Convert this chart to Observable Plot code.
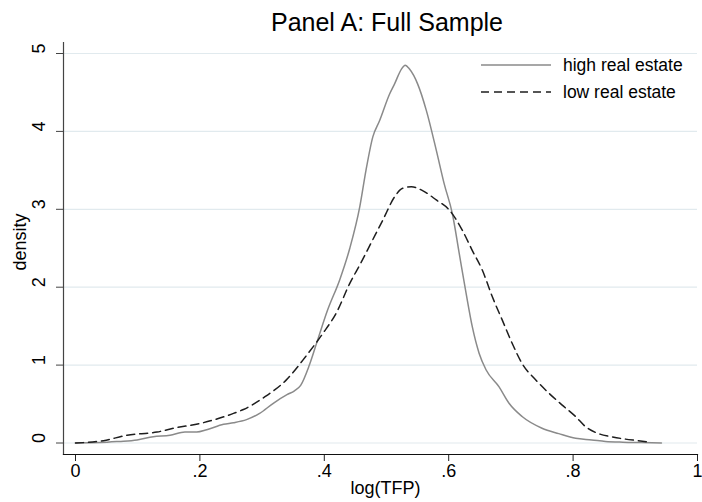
<!DOCTYPE html>
<html><head><meta charset="utf-8">
<script src="https://cdn.jsdelivr.net/npm/d3@7"></script>
<script src="https://cdn.jsdelivr.net/npm/@observablehq/plot@0.6"></script>
<style>
body{margin:0;background:#fff;font-family:"Liberation Sans",Arial,sans-serif;}
#wrap{position:relative;width:702px;height:502px;overflow:hidden;background:#fff;}
#title{position:absolute;left:75px;width:624px;top:4px;height:36px;line-height:36px;text-align:center;font-size:25px;color:#000;margin:0;font-weight:normal;}
#chart{position:absolute;left:0;top:36px;}
#legend{position:absolute;left:0;top:0;pointer-events:none;}
</style></head>
<body>
<div id="wrap">
  <div id="title"></div>
  <div id="chart"></div>
  <svg id="legend" width="702" height="502"></svg>
</div>
<script>
const titleText = "Panel A: Full Sample";
const seriesNames = ["high real estate", "low real estate"];
const xTicks = [0, 0.2, 0.4, 0.6, 0.8, 1];
const xTickLabels = ["0", ".2", ".4", ".6", ".8", "1"];
const yTicks = [0, 1, 2, 3, 4, 5];
const xLabel = "log(TFP)";
const yLabel = "density";

const highX = [0, 0.04, 0.07, 0.099, 0.125, 0.152, 0.176, 0.195, 0.211, 0.238, 0.254, 0.275, 0.296, 0.318, 0.340, 0.352, 0.362, 0.376, 0.390, 0.405, 0.425, 0.441, 0.457, 0.467, 0.478, 0.489, 0.505, 0.513, 0.524, 0.530, 0.537, 0.550, 0.564, 0.580, 0.593, 0.606, 0.617, 0.628, 0.638, 0.649, 0.660, 0.681, 0.697, 0.718, 0.750, 0.777, 0.804, 0.830, 0.852, 0.880, 0.910, 0.942];
const highY = [0, 0.005, 0.02, 0.04, 0.08, 0.10, 0.14, 0.14, 0.17, 0.24, 0.26, 0.30, 0.38, 0.51, 0.62, 0.67, 0.74, 1.00, 1.34, 1.70, 2.10, 2.50, 3.03, 3.50, 3.93, 4.14, 4.48, 4.61, 4.80, 4.85, 4.80, 4.61, 4.27, 3.76, 3.32, 2.94, 2.43, 1.92, 1.49, 1.15, 0.94, 0.72, 0.51, 0.34, 0.19, 0.12, 0.06, 0.04, 0.02, 0.01, 0.005, 0];

const lowX = [0, 0.045, 0.083, 0.131, 0.158, 0.200, 0.232, 0.254, 0.270, 0.302, 0.339, 0.371, 0.398, 0.420, 0.441, 0.458, 0.476, 0.494, 0.513, 0.526, 0.540, 0.558, 0.580, 0.601, 0.622, 0.638, 0.654, 0.670, 0.686, 0.702, 0.718, 0.740, 0.761, 0.782, 0.804, 0.820, 0.841, 0.862, 0.884, 0.905, 0.924];
const lowY = [0, 0.03, 0.10, 0.14, 0.19, 0.25, 0.32, 0.38, 0.43, 0.58, 0.81, 1.12, 1.41, 1.68, 2.05, 2.30, 2.58, 2.86, 3.16, 3.27, 3.29, 3.24, 3.12, 2.99, 2.73, 2.47, 2.22, 1.88, 1.58, 1.28, 1.02, 0.81, 0.64, 0.49, 0.34, 0.21, 0.12, 0.08, 0.05, 0.03, 0.01];

const high = highX.map((x, i) => ({x, y: highY[i]}));
const low = lowX.map((x, i) => ({x, y: lowY[i]}));

const solidColor = "#8a8a8a";
const dashColor = "#1e1e1e";

document.getElementById("title").textContent = titleText;

const fig = Plot.plot({
  width: 702,
  height: 466,
  marginTop: 6,
  marginBottom: 48,
  marginLeft: 63,
  marginRight: 5,
  insetTop: 11,
  insetBottom: 11.5,
  insetLeft: 12,
  insetRight: 0,
  style: {fontFamily: "'Liberation Sans', Arial, sans-serif", fontSize: "18px", background: "white", color: "#000", overflow: "visible"},
  x: {domain: [0, 1]},
  y: {domain: [0, 5]},
  marks: [
    Plot.gridY(yTicks, {stroke: "#e1eaee", strokeOpacity: 1, strokeWidth: 1.2}),
    Plot.axisX(xTicks, {tickFormat: d => xTickLabels[xTicks.indexOf(d)], tickSize: 7, tickPadding: 3, label: null, stroke: "#222", fill: "#000"}),
    Plot.axisY(yTicks, {tickFormat: () => "", tickSize: 7, label: null, stroke: "#444"}),
    Plot.text(yTicks, {y: d => d, text: d => String(d), frameAnchor: "left", rotate: -90, dx: -24, fill: "#000"}),
    Plot.frame({anchor: "left", stroke: "#444", strokeWidth: 1.2}),
    Plot.frame({anchor: "bottom", stroke: "#111", strokeWidth: 1.2}),
    Plot.line(high, {x: "x", y: "y", stroke: solidColor, strokeWidth: 1.5, curve: "monotone-x"}),
    Plot.line(low, {x: "x", y: "y", stroke: dashColor, strokeWidth: 1.5, strokeDasharray: "8,5", curve: "monotone-x"}),
    Plot.text([yLabel], {frameAnchor: "left", rotate: -90, dx: -43, dy: 22, fill: "#000"}),
    Plot.text([xLabel], {frameAnchor: "bottom", dy: 39, dx: 5, fill: "#000"})
  ]
});
document.getElementById("chart").appendChild(fig);

// legend
const lg = d3.select("#legend");
const items = [
  {name: seriesNames[0], color: solidColor, dash: null},
  {name: seriesNames[1], color: dashColor, dash: "8,5"}
];
items.forEach((it, i) => {
  const y = 65 + i * 27;
  lg.append("line").attr("x1", 481).attr("x2", 551).attr("y1", y).attr("y2", y)
    .attr("stroke", it.color).attr("stroke-width", 1.5).attr("stroke-dasharray", it.dash);
  lg.append("text").attr("x", 563).attr("y", y).attr("dy", "0.35em")
    .attr("font-family", "'Liberation Sans', Arial, sans-serif").attr("font-size", "17.5px")
    .attr("fill", "#000").text(it.name);
});
</script>
</body></html>
